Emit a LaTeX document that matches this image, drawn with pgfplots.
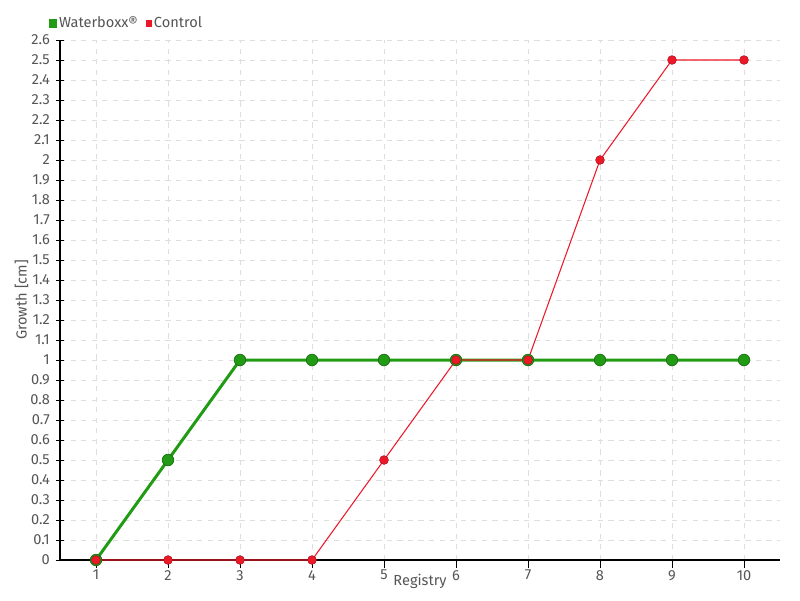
\documentclass[border=0pt]{standalone}
\usepackage{fontspec}
\setmainfont{Fira Sans}
\usepackage{pgfplots}
\pgfplotsset{compat=1.18}
\definecolor{wbgreen}{RGB}{34,155,20}
\definecolor{wbgreendark}{RGB}{30,110,20}
\definecolor{ctred}{RGB}{236,24,40}
\definecolor{ctreddark}{RGB}{170,20,30}
\definecolor{txtgray}{RGB}{85,85,85}
\definecolor{gridgray}{RGB}{222,222,222}

\begin{document}
\begin{tikzpicture}
\useasboundingbox (-1.2cm,-0.8cm) rectangle (14.8cm,11.2cm);
\begin{axis}[
  at={(0,0)}, anchor=south west,
  scale only axis, width=14.4cm, height=10.4cm,
  xmin=0.5, xmax=10.5, ymin=0, ymax=2.6,
  xtick={1,...,10}, ytick distance=0.1,
  axis lines=left, axis line style={-, black, line width=0.6pt},
  grid=major, major grid style={gridgray, dashed, line width=0.5pt},
  tick style={black, line width=0.5pt},
  major tick length=0.16cm,
  xtick style={/pgfplots/tick align=outside},
  ytick style={/pgfplots/tick align=center},
  /pgf/number format/assume math mode=true,
  tick label style={font=\fontsize{8.3}{9}\selectfont, color=txtgray},
  label style={font=\fontsize{8.3}{9}\selectfont, color=txtgray},
  xlabel={Registry}, ylabel={Growth [cm]},
  xlabel style={yshift=0.36cm},
  ylabel style={yshift=-0.2cm},
  legend columns=2,
  legend style={draw=none, fill=none, at={(rel axis cs:-0.016,1)}, anchor=south west,
    yshift=0.12cm, font=\fontsize{8.3}{9}\selectfont, text=txtgray,
    /tikz/every even column/.append style={column sep=0.12cm},
    inner sep=0pt, nodes={inner xsep=1pt}},
  legend image code/.code={\fill[#1] (0cm,-0.055cm) rectangle (0.11cm,0.055cm);},
]
\addplot[color=wbgreen, line width=1.7pt, mark=*, mark size=3.3pt,
  mark options={fill=wbgreen, draw=wbgreendark, line width=0.4pt}]
  coordinates {(1,0) (2,0.5) (3,1) (4,1) (5,1) (6,1) (7,1) (8,1) (9,1) (10,1)};
\addlegendentry{Waterboxx®}
\addplot[color=ctred, line width=0.6pt, mark=*, mark size=2.5pt,
  mark options={fill=ctred, draw=ctreddark, line width=0.3pt}]
  coordinates {(1,0) (2,0) (3,0) (4,0) (5,0.5) (6,1) (7,1) (8,2) (9,2.5) (10,2.5)};
\addlegendentry{Control}
\end{axis}
\end{tikzpicture}
\end{document}
